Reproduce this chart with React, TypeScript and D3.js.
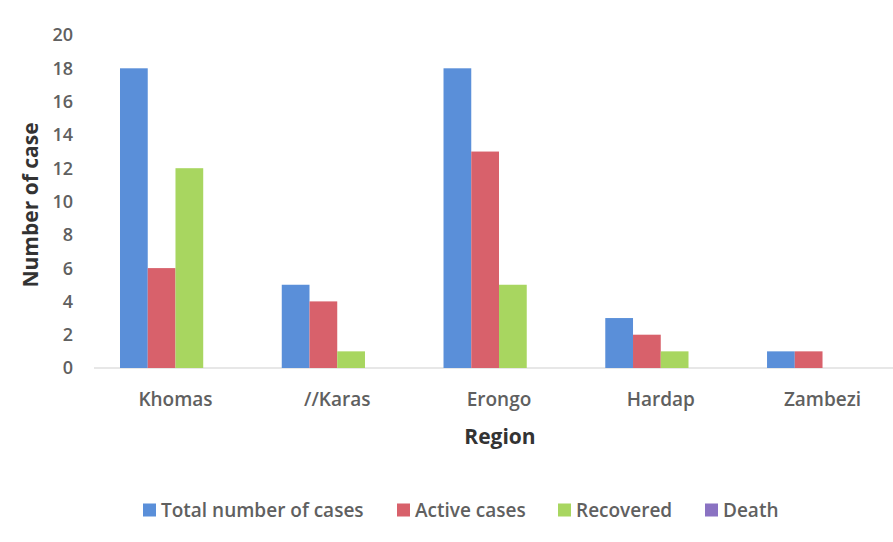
import React, { useEffect, useRef } from 'react';
import * as d3 from 'd3';

const regions = ['Khomas', '//Karas', 'Erongo', 'Hardap', 'Zambezi'];
const seriesNames = ['Total number of cases', 'Active cases', 'Recovered', 'Death'];
const totalCases = [18, 5, 18, 3, 1];
const activeCases = [6, 4, 13, 2, 1];
const recovered = [12, 1, 5, 1, 0];
const deaths = [0, 0, 0, 0, 0];
const yTicks = [0, 2, 4, 6, 8, 10, 12, 14, 16, 18, 20];
const colors = ['#5a8fd9', '#d8616b', '#a8d660', '#8a72c2'];

const App: React.FC = () => {
    const svgRef = useRef<SVGSVGElement>(null);

    useEffect(() => {
        const width = 893;
        const height = 542;
        const svg = d3.select(svgRef.current);
        svg.selectAll('*').remove();
        svg.attr('width', width).attr('height', height);

        svg.append('rect').attr('width', width).attr('height', height).attr('fill', '#ffffff');

        const font = "'Open Sans', Lato, sans-serif";
        const values = [totalCases, activeCases, recovered, deaths];

        const x0 = d3.scaleBand().domain(regions).range([94.6, 903.4]).paddingInner(0.314).paddingOuter(0.157);
        const x1 = d3.scaleBand().domain(seriesNames).range([0, x0.bandwidth()]);
        const y = d3.scaleLinear().domain([0, 20]).range([368, 35]);

        // baseline
        svg.append('line')
            .attr('x1', 94).attr('x2', 893)
            .attr('y1', y(0)).attr('y2', y(0))
            .attr('stroke', '#d0d0d0').attr('stroke-width', 1.2);

        // y ticks
        svg.append('g').selectAll('text')
            .data(yTicks)
            .enter().append('text')
            .attr('x', 73)
            .attr('y', (d) => y(d))
            .attr('dy', '0.36em')
            .attr('text-anchor', 'end')
            .attr('font-family', font)
            .attr('font-size', 18)
            .attr('font-weight', 600)
            .attr('fill', '#606060')
            .text((d) => d);

        // bars
        const groups = svg.append('g').selectAll('g')
            .data(regions)
            .enter().append('g')
            .attr('transform', (d) => `translate(${x0(d)},0)`);

        groups.selectAll('rect')
            .data((d, i) => seriesNames.map((s, k) => ({ s, v: values[k][i], k })))
            .enter().append('rect')
            .attr('x', (d) => x1(d.s) || 0)
            .attr('y', (d) => y(d.v))
            .attr('width', x1.bandwidth())
            .attr('height', (d) => y(0) - y(d.v))
            .attr('fill', (d) => colors[d.k]);

        // category labels
        svg.append('g').selectAll('text')
            .data(regions)
            .enter().append('text')
            .attr('x', (d) => (x0(d) || 0) + x0.bandwidth() / 2)
            .attr('y', 399)
            .attr('dy', '0.36em')
            .attr('text-anchor', 'middle')
            .attr('font-family', font)
            .attr('font-size', 19)
            .attr('font-weight', 600)
            .attr('fill', '#606060')
            .text((d) => d);

        // axis titles
        svg.append('text')
            .attr('x', 500).attr('y', 436)
            .attr('dy', '0.36em')
            .attr('text-anchor', 'middle')
            .attr('font-family', font)
            .attr('font-size', 21)
            .attr('font-weight', 700)
            .attr('fill', '#333333')
            .text('Region');

        svg.append('text')
            .attr('transform', `translate(30,205) rotate(-90)`)
            .attr('dy', '0.36em')
            .attr('text-anchor', 'middle')
            .attr('font-family', font)
            .attr('font-size', 21)
            .attr('font-weight', 700)
            .attr('fill', '#333333')
            .text('Number of case');

        // legend
        const legendX = [143, 397, 558, 705];
        const legend = svg.append('g').selectAll('g')
            .data(seriesNames)
            .enter().append('g')
            .attr('transform', (d, i) => `translate(${legendX[i]},510)`);

        legend.append('rect')
            .attr('x', 0).attr('y', -6.5)
            .attr('width', 13).attr('height', 13)
            .attr('fill', (d, i) => colors[i]);

        legend.append('text')
            .attr('x', 18).attr('y', 0)
            .attr('dy', '0.36em')
            .attr('font-family', font)
            .attr('font-size', 19)
            .attr('font-weight', 600)
            .attr('fill', '#606060')
            .text((d) => d);
    }, []);

    return <svg ref={svgRef} style={{ display: 'block', position: 'absolute', left: 0, top: 0 }}></svg>;
};

export default App;
